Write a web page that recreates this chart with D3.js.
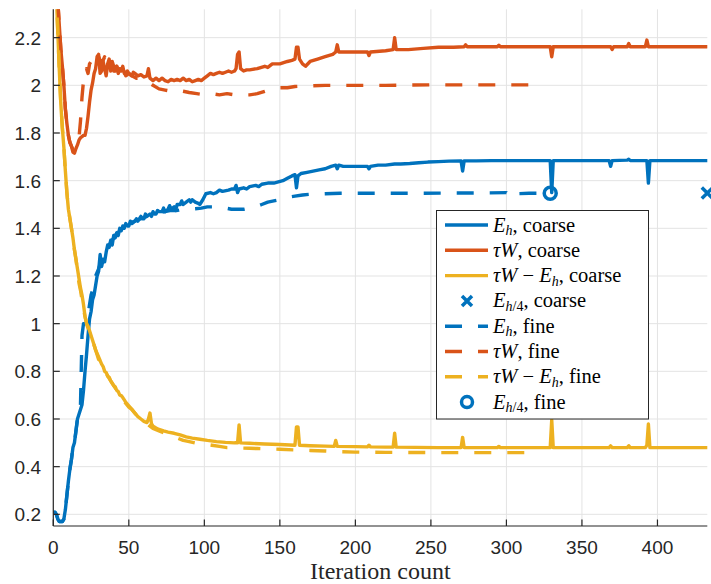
<!DOCTYPE html>
<html><head><meta charset="utf-8">
<script src="https://cdn.jsdelivr.net/npm/d3@7"></script>
<style>
html,body{margin:0;padding:0;background:#fff;}
svg{display:block;}
</style></head>
<body><svg id="chart" width="711" height="584"></svg>
<script>
// ---------------- data ----------------
const xTicks = [0, 50, 100, 150, 200, 250, 300, 350, 400];
const yTicks = [0.2, 0.4, 0.6, 0.8, 1, 1.2, 1.4, 1.6, 1.8, 2, 2.2];
const yTickLabels = ["0.2","0.4","0.6","0.8","1","1.2","1.4","1.6","1.8","2","2.2"];
const xLabel = "Iteration count";

const ehCoarse = [[1,0.21],[2,0.2],[3,0.18],[4,0.17],[5,0.17],[6,0.17],[7,0.18],[8,0.22],[9,0.28],[10,0.34],[11,0.39],[12,0.43],[13,0.48],[14,0.5],[15,0.55],[16,0.6],[17,0.62],[18,0.64],[19,0.66],[20,0.72],[21,0.8],[22,0.87],[23,0.95],[24,1.02],[25,1.05],[26,1.1],[27,1.12],[28,1.16],[29,1.2],[30,1.22],[31,1.29],[32,1.24],[33,1.27],[34,1.26],[35,1.3],[36,1.33],[37,1.32],[38,1.35],[39,1.33],[40,1.37],[41,1.36],[42,1.38],[43,1.37],[44,1.4],[45,1.39],[46,1.41],[47,1.4],[48,1.42],[49,1.41],[50,1.41],[51,1.43],[52,1.42],[54,1.43],[55,1.44],[56,1.43],[58,1.45],[59,1.44],[60,1.44],[61,1.46],[62,1.45],[64,1.46],[65,1.45],[66,1.47],[67,1.46],[68,1.46],[69,1.475],[70,1.47],[72,1.47],[73,1.485],[74,1.47],[76,1.48],[77,1.495],[78,1.48],[80,1.49],[81,1.475],[82,1.5],[84,1.5],[85,1.515],[86,1.5],[88,1.51],[90,1.52],[91,1.51],[92,1.52],[94,1.51],[96,1.505],[97,1.5],[99,1.52],[101,1.545],[104,1.55],[106,1.545],[108,1.55],[110,1.56],[112,1.555],[116,1.56],[118,1.565],[120,1.565],[121,1.58],[122,1.55],[123,1.565],[126,1.57],[128,1.565],[130,1.575],[134,1.58],[136,1.575],[138,1.585],[142,1.59],[146,1.59],[149,1.595],[152,1.6],[155,1.61],[158,1.62],[160,1.625],[161,1.57],[162,1.62],[164,1.63],[168,1.635],[172,1.64],[176,1.645],[180,1.65],[184,1.66],[187,1.665],[188,1.65],[189,1.665],[192,1.66],[196,1.66],[200,1.66],[205,1.66],[208,1.66],[209,1.65],[210,1.66],[215,1.665],[220,1.665],[226,1.67],[230,1.67],[236,1.672],[242,1.675],[248,1.678],[255,1.68],[262,1.682],[270,1.683],[271,1.64],[272,1.683],[280,1.683],[290,1.684],[300,1.684],[310,1.684],[320,1.684],[329,1.684],[330,1.55],[331,1.684],[340,1.684],[350,1.684],[360,1.684],[368,1.684],[369,1.66],[370,1.684],[380,1.686],[381,1.69],[382,1.684],[393,1.684],[394,1.59],[395,1.684],[410,1.684],[420,1.684],[433,1.684]];

const twCoarse = [[1,2.9],[2,2.6],[3,2.35],[4,2.25],[5,2.15],[6,2.08],[7,2.0],[8,1.9],[9,1.84],[10,1.79],[11,1.76],[12,1.745],[13,1.72],[14,1.715],[15,1.735],[16,1.75],[17,1.77],[18,1.78],[19,1.785],[20,1.79],[21,1.79],[22,1.82],[23,1.87],[24,1.93],[25,1.98],[26,2.01],[27,2.05],[28,2.07],[29,2.12],[30,2.13],[31,2.05],[32,2.06],[33,2.1],[34,2.07],[35,2.04],[36,2.09],[37,2.11],[38,2.06],[39,2.1],[40,2.08],[41,2.06],[42,2.08],[43,2.05],[44,2.07],[45,2.06],[46,2.08],[47,2.05],[48,2.05],[49,2.06],[50,2.05],[52,2.04],[53,2.055],[54,2.05],[56,2.04],[58,2.045],[60,2.035],[62,2.04],[63,2.07],[64,2.03],[66,2.02],[68,2.03],[70,2.02],[72,2.03],[74,2.02],[76,2.015],[78,2.025],[80,2.02],[82,2.025],[84,2.02],[86,2.03],[88,2.02],[90,2.025],[92,2.015],[94,2.02],[96,2.025],[98,2.02],[100,2.03],[102,2.04],[104,2.05],[106,2.045],[108,2.05],[110,2.055],[112,2.05],[114,2.055],[116,2.06],[118,2.055],[120,2.06],[121,2.07],[122,2.13],[123,2.14],[124,2.07],[126,2.06],[128,2.065],[130,2.065],[135,2.07],[140,2.08],[142,2.075],[145,2.09],[150,2.09],[155,2.1],[158,2.105],[160,2.11],[161,2.16],[162,2.16],[163,2.11],[165,2.09],[167,2.08],[170,2.1],[175,2.11],[180,2.12],[185,2.13],[187,2.14],[188,2.17],[189,2.14],[192,2.14],[200,2.14],[208,2.14],[209,2.125],[210,2.14],[220,2.145],[225,2.15],[226,2.2],[227,2.15],[235,2.15],[245,2.155],[255,2.16],[265,2.16],[272,2.162],[273,2.17],[274,2.162],[285,2.162],[294,2.162],[295,2.168],[296,2.162],[310,2.162],[329,2.162],[330,2.12],[331,2.162],[345,2.162],[360,2.162],[369,2.162],[370,2.15],[371,2.162],[380,2.162],[381,2.175],[382,2.162],[392,2.162],[393,2.19],[394,2.162],[410,2.162],[433,2.162]];

const diffCoarse = [[1,2.7],[2,2.38],[3,2.22],[4,2.06],[5,1.92],[6,1.82],[7,1.74],[8,1.64],[9,1.55],[10,1.48],[11,1.44],[12,1.4],[13,1.36],[14,1.31],[15,1.27],[16,1.23],[17,1.19],[18,1.15],[19,1.12],[20,1.08],[21,1.03],[22,1.0],[23,0.99],[24,0.97],[25,0.95],[26,0.93],[27,0.91],[28,0.89],[29,0.87],[30,0.85],[31,0.845],[32,0.83],[33,0.82],[34,0.8],[35,0.795],[36,0.78],[37,0.775],[38,0.76],[39,0.75],[40,0.74],[41,0.735],[42,0.72],[43,0.715],[44,0.7],[45,0.698],[46,0.69],[47,0.68],[48,0.67],[50,0.655],[52,0.64],[54,0.625],[56,0.61],[58,0.6],[60,0.59],[62,0.585],[63,0.6],[64,0.625],[65,0.58],[66,0.57],[68,0.562],[70,0.556],[73,0.55],[76,0.545],[80,0.54],[84,0.533],[88,0.525],[92,0.52],[97,0.515],[102,0.51],[108,0.505],[114,0.502],[120,0.5],[122,0.5],[123,0.575],[124,0.5],[130,0.498],[140,0.495],[150,0.493],[160,0.49],[161,0.567],[162,0.567],[163,0.49],[170,0.488],[180,0.486],[186,0.485],[187,0.51],[188,0.485],[200,0.484],[208,0.483],[209,0.49],[210,0.483],[220,0.482],[225,0.482],[226,0.54],[227,0.482],[240,0.481],[255,0.48],[270,0.48],[271,0.523],[272,0.48],[280,0.48],[294,0.48],[295,0.485],[296,0.48],[310,0.48],[329,0.48],[330,0.596],[331,0.48],[350,0.48],[368,0.48],[369,0.487],[370,0.48],[380,0.48],[381,0.488],[382,0.48],[392,0.48],[393,0.49],[394,0.579],[395,0.48],[410,0.48],[433,0.48]];

const ehFine = [[1,0.21],[2,0.2],[3,0.18],[4,0.17],[5,0.17],[6,0.17],[7,0.18],[8,0.22],[9,0.28],[10,0.34],[11,0.39],[12,0.43],[13,0.48],[14,0.5],[15,0.55],[16,0.6],[17,0.62],[18,0.66],[19,0.95],[20,1.0],[21,1.0],[22,1.01],[23,1.04],[24,1.08],[25,1.12],[26,1.14],[27,1.17],[28,1.2],[30,1.23],[32,1.27],[34,1.3],[36,1.32],[38,1.34],[40,1.36],[42,1.38],[44,1.39],[46,1.4],[48,1.41],[50,1.42],[54,1.43],[58,1.44],[62,1.45],[66,1.46],[70,1.465],[74,1.47],[78,1.475],[82,1.475],[86,1.48],[90,1.48],[94,1.482],[98,1.485],[102,1.49],[106,1.49],[110,1.49],[114,1.485],[118,1.48],[122,1.48],[126,1.48],[130,1.485],[134,1.49],[138,1.5],[142,1.51],[146,1.515],[150,1.52],[155,1.53],[160,1.535],[165,1.54],[170,1.543],[180,1.545],[190,1.547],[200,1.547],[220,1.547],[240,1.547],[260,1.548],[280,1.548],[300,1.55],[303,1.53],[306,1.545],[315,1.547],[329,1.547]];

const twFine = [[1,2.9],[2,2.6],[3,2.35],[4,2.25],[5,2.15],[6,2.08],[7,2.0],[8,1.9],[9,1.84],[10,1.79],[11,1.76],[12,1.745],[13,1.73],[14,1.74],[15,1.75],[16,1.77],[17,1.78],[18,1.85],[19,1.95],[20,2.02],[21,2.04],[22,2.07],[23,2.05],[24,2.09],[25,2.1],[26,2.08],[28,2.1],[30,2.12],[32,2.09],[34,2.12],[36,2.08],[38,2.1],[40,2.06],[42,2.08],[44,2.05],[46,2.07],[48,2.04],[50,2.05],[52,2.04],[55,2.03],[58,2.03],[62,2.02],[66,2.0],[70,1.985],[74,1.98],[78,1.975],[82,1.98],[86,1.975],[90,1.97],[95,1.965],[100,1.96],[105,1.965],[110,1.96],[115,1.965],[120,1.96],[125,1.96],[130,1.96],[135,1.965],[140,1.975],[145,1.985],[150,1.99],[155,1.99],[160,1.995],[170,1.998],[180,2.0],[200,2.0],[220,2.0],[250,2.002],[280,2.002],[300,2.002],[321,2.002]];

const diffFine = [[1,2.7],[2,2.38],[3,2.22],[4,2.06],[5,1.92],[6,1.82],[7,1.74],[8,1.64],[9,1.55],[10,1.48],[11,1.44],[12,1.4],[13,1.36],[14,1.31],[15,1.27],[16,1.22],[17,1.17],[18,1.14],[19,1.1],[20,1.06],[21,1.03],[22,1.0],[23,0.98],[24,0.96],[26,0.93],[28,0.89],[30,0.86],[32,0.83],[34,0.81],[36,0.78],[38,0.76],[40,0.74],[42,0.72],[44,0.7],[46,0.68],[48,0.665],[50,0.65],[52,0.64],[54,0.625],[56,0.61],[58,0.6],[60,0.59],[62,0.58],[64,0.57],[66,0.56],[70,0.55],[74,0.54],[78,0.53],[82,0.52],[86,0.51],[90,0.505],[95,0.498],[100,0.495],[105,0.49],[110,0.485],[115,0.48],[120,0.48],[125,0.478],[130,0.477],[135,0.476],[140,0.475],[150,0.473],[160,0.47],[170,0.468],[180,0.466],[190,0.463],[200,0.461],[220,0.46],[250,0.459],[280,0.459],[300,0.459],[321,0.459]];

const eh4Coarse = [[433, 1.548]];
const eh4Fine = [[329, 1.547]];

// ---------------- layout ----------------
const svg = d3.select("#chart");
const pL = 53.3, pR = 707.3, pT = 9.3, pB = 526;
const x = d3.scaleLinear().domain([0, 433]).range([pL, pR]);
const y = d3.scaleLinear().domain([0.151, 2.319]).range([pB, pT]);

const blue = "#0072BD", red = "#D95319", yellow = "#EDB120";
const axisColor = "#262626";
const dash = "17,16";
const lw = 3.4;

svg.append("defs").append("clipPath").attr("id","clip")
  .append("rect").attr("x", pL).attr("y", pT).attr("width", pR-pL).attr("height", pB-pT);

// grid
const grid = svg.append("g").attr("stroke", "#e3e3e3").attr("stroke-width", 1);
grid.selectAll(".gx").data(xTicks).join("line")
  .attr("x1", d => x(d)).attr("x2", d => x(d)).attr("y1", pT).attr("y2", pB);
grid.selectAll(".gy").data(yTicks).join("line")
  .attr("x1", pL).attr("x2", pR).attr("y1", d => y(d)).attr("y2", d => y(d));

// series
const line = d3.line().x(d => x(d[0])).y(d => y(d[1]));
function drawLine(g, data, color, dashed){
  g.append("path").datum(data)
    .attr("d", line).attr("fill","none").attr("stroke", color)
    .attr("stroke-width", lw).attr("stroke-linejoin","round")
    .attr("stroke-linecap", dashed ? "butt" : "round")
    .attr("stroke-dasharray", dashed ? dash : null);
}
function drawCross(g, cx, cy, s, color){
  g.append("path").attr("d", `M${cx-s},${cy-s}L${cx+s},${cy+s}M${cx-s},${cy+s}L${cx+s},${cy-s}`)
    .attr("stroke", color).attr("stroke-width", 3.5).attr("fill","none");
}
function drawCircle(g, cx, cy, r, color){
  g.append("circle").attr("cx", cx).attr("cy", cy).attr("r", r)
    .attr("fill","none").attr("stroke", color).attr("stroke-width", 3.5);
}

const plot1 = svg.append("g").attr("clip-path", "url(#clip)");
drawLine(plot1, ehCoarse, blue, false);
drawLine(plot1, twCoarse, red, false);
drawLine(plot1, diffCoarse, yellow, false);
const markers1 = svg.append("g");
eh4Coarse.forEach(d => drawCross(markers1, x(d[0]), y(d[1]), 5.5, blue));
const plot2 = svg.append("g").attr("clip-path","url(#clip)");
drawLine(plot2, ehFine, blue, true);
drawLine(plot2, twFine, red, true);
drawLine(plot2, diffFine, yellow, true);
const markers2 = svg.append("g");
eh4Fine.forEach(d => drawCircle(markers2, x(d[0]), y(d[1]), 6, blue));

// axes
const ax = svg.append("g").attr("stroke", axisColor).attr("stroke-width", 1.2);
ax.append("line").attr("x1", pL).attr("x2", pL).attr("y1", pT).attr("y2", pB);
ax.append("line").attr("x1", pL).attr("x2", pR).attr("y1", pB).attr("y2", pB);
ax.selectAll(".tx").data(xTicks).join("line")
  .attr("x1", d => x(d)).attr("x2", d => x(d)).attr("y1", pB).attr("y2", pB-6.5);
ax.selectAll(".ty").data(yTicks).join("line")
  .attr("x1", pL).attr("x2", pL+6.5).attr("y1", d => y(d)).attr("y2", d => y(d));

const tickFont = "'Liberation Sans', Arial, Helvetica, sans-serif";
svg.append("g").selectAll("text").data(xTicks).join("text")
  .attr("x", d => x(d)).attr("y", 553.5).attr("text-anchor","middle")
  .attr("font-family", tickFont).attr("font-size", 19).attr("fill", axisColor)
  .text(d => String(d));
svg.append("g").selectAll("text").data(yTicks).join("text")
  .attr("x", 41).attr("y", d => y(d) + 7).attr("text-anchor","end")
  .attr("font-family", tickFont).attr("font-size", 19).attr("fill", axisColor)
  .text((d,i) => yTickLabels[i]);

const serif = "'Liberation Serif', 'Times New Roman', serif";
svg.append("text").attr("x", (pL+pR)/2).attr("y", 579)
  .attr("text-anchor","middle").attr("font-family", serif).attr("font-size", 24)
  .attr("fill", axisColor).text(xLabel);

// legend
const legendEntries = [
  {type:"line", color: blue, dashed:false, parts:[["E","i"],["h","s"],[", coarse","r"]]},
  {type:"line", color: red, dashed:false, parts:[["τW","i"],[", coarse","r"]]},
  {type:"line", color: yellow, dashed:false, parts:[["τW","i"],[" − ","r"],["E","i"],["h","s"],[", coarse","r"]]},
  {type:"cross", color: blue, parts:[["E","i"],["h","s"],["/4","sr"],[", coarse","r"]]},
  {type:"line", color: blue, dashed:true, parts:[["E","i"],["h","s"],[", fine","r"]]},
  {type:"line", color: red, dashed:true, parts:[["τW","i"],[", fine","r"]]},
  {type:"line", color: yellow, dashed:true, parts:[["τW","i"],[" − ","r"],["E","i"],["h","s"],[", fine","r"]]},
  {type:"circle", color: blue, parts:[["E","i"],["h","s"],["/4","sr"],[", fine","r"]]}
];
const lg = svg.append("g");
lg.append("rect").attr("x", 436.5).attr("y", 210.5).attr("width", 212).attr("height", 208.5)
  .attr("fill","#fff").attr("stroke", axisColor).attr("stroke-width", 1);
legendEntries.forEach((e, i) => {
  const cy = 225 + i * 25.3;
  if (e.type === "line") {
    lg.append("line").attr("x1", 445).attr("x2", 488).attr("y1", cy).attr("y2", cy)
      .attr("stroke", e.color).attr("stroke-width", lw)
      .attr("stroke-dasharray", e.dashed ? dash : null);
  } else if (e.type === "cross") {
    drawCross(lg, 467, cy, 5, e.color);
  } else {
    drawCircle(lg, 467, cy, 5.5, e.color);
  }
  const t = lg.append("text").attr("x", 493).attr("y", cy + 6.5)
    .attr("font-family", serif).attr("font-size", 20.5).attr("fill", "#000")
    .attr("xml:space","preserve");
  let sub = false;
  e.parts.forEach(p => {
    const ts = t.append("tspan").text(p[0]);
    if (p[1] === "i") ts.attr("font-style","italic");
    if (p[1] === "s" || p[1] === "sr") {
      ts.attr("font-size", 14);
      if (p[1] === "s") ts.attr("font-style","italic");
      if (!sub) { ts.attr("dy", 3.5); sub = true; }
    } else if (sub) { ts.attr("dy", -3.5); sub = false; }
  });
});
</script>
</body></html>
